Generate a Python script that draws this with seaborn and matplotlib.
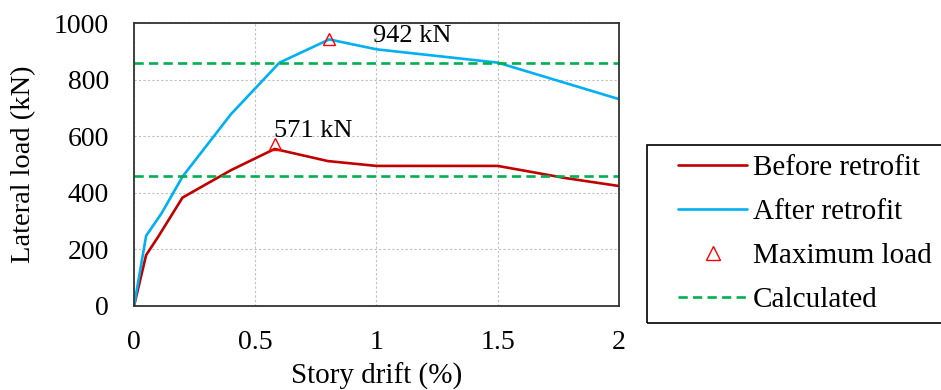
import matplotlib
matplotlib.use("Agg")
import matplotlib.pyplot as plt
from matplotlib.patches import Rectangle
import seaborn as sns
import pandas as pd

# story drift (%) and lateral load (kN)
before_drift = [0, 0.05, 0.1, 0.2, 0.4, 0.58, 0.8, 1.0, 1.5, 1.78, 2.0]
before_load = [0, 180, 245, 383, 480, 555, 512, 495, 495, 452, 424]
after_drift = [0, 0.05, 0.114, 0.2, 0.4, 0.6, 0.805, 1.0, 1.5, 2.0]
after_load = [0, 248, 328, 457, 678, 860, 942, 907, 860, 731]
peak_drift = [0.58, 0.805]
peak_load = [571, 942]
peak_labels = ["571 kN", "942 kN"]
calc_load = [460, 860]

df = pd.concat([
    pd.DataFrame({"drift": before_drift, "load": before_load, "case": "Before retrofit"}),
    pd.DataFrame({"drift": after_drift, "load": after_load, "case": "After retrofit"}),
])

sns.set_theme(style="white")
plt.rcParams["font.family"] = ["Liberation Serif", "DejaVu Serif"]
plt.rcParams["text.color"] = "black"
plt.rcParams["axes.labelcolor"] = "black"

fig = plt.figure(figsize=(9.41, 3.90), dpi=100)
ax = fig.add_axes([0.1424, 0.2154, 0.5154, 0.7256])

red, blue, green = "#C00000", "#00B0F0", "#00B050"
dash = (0, (3.5, 2))

sns.lineplot(data=df, x="drift", y="load", hue="case", sort=False,
             palette={"Before retrofit": red, "After retrofit": blue},
             linewidth=1.9, ax=ax, legend=False)
ax.plot(peak_drift, peak_load, linestyle="none", marker="^", markersize=9,
        markerfacecolor="none", markeredgecolor="#FF0000", markeredgewidth=1.0)
for y in calc_load:
    ax.axhline(y, color=green, linestyle=dash, linewidth=1.9)

ax.text(0.577, 597, peak_labels[0], fontsize=19, ha="left", va="baseline")
ax.text(0.986, 933, peak_labels[1], fontsize=19, ha="left", va="baseline")

ax.set_xlim(0, 2)
ax.set_ylim(0, 1000)
ax.set_xticks([0, 0.5, 1, 1.5, 2])
ax.set_xticklabels(["0", "0.5", "1", "1.5", "2"])
ax.set_yticks([0, 200, 400, 600, 800, 1000])
ax.grid(True, color="#BFBFBF", linestyle=(0, (2, 2)), linewidth=0.8)
ax.tick_params(axis="both", length=0, labelsize=20, colors="black")
ax.tick_params(axis="x", pad=17)
ax.tick_params(axis="y", pad=18)
for s in ax.spines.values():
    s.set_color("#333333")
    s.set_linewidth(1.3)
ax.set_xlabel("Story drift (%)", fontsize=21, labelpad=6)
ax.set_ylabel("Lateral load (kN)", fontsize=20.5, labelpad=13)

# legend box drawn separately (runs off the right edge)
fig.patches.append(Rectangle((647 / 941, 1 - 323 / 390), 0.35, 178 / 390,
                             transform=fig.transFigure, fill=False,
                             edgecolor="black", linewidth=1.2))
handles = [
    plt.Line2D([], [], color=red, linewidth=1.9),
    plt.Line2D([], [], color=blue, linewidth=1.9),
    plt.Line2D([], [], linestyle="none", marker="^", markersize=10,
               markerfacecolor="none", markeredgecolor="#FF0000"),
    plt.Line2D([], [], color=green, linestyle=dash, linewidth=1.9),
]
labels = ["Before retrofit", "After retrofit", "Maximum load", "Calculated"]
fig.legend(handles, labels, loc="center left",
           bbox_to_anchor=(678 / 941, 1 - 234 / 390),
           fontsize=21, frameon=False, handlelength=2.37,
           handletextpad=0.2, borderpad=0, labelspacing=0.6, borderaxespad=0)

fig.savefig("out.png", dpi=100)
